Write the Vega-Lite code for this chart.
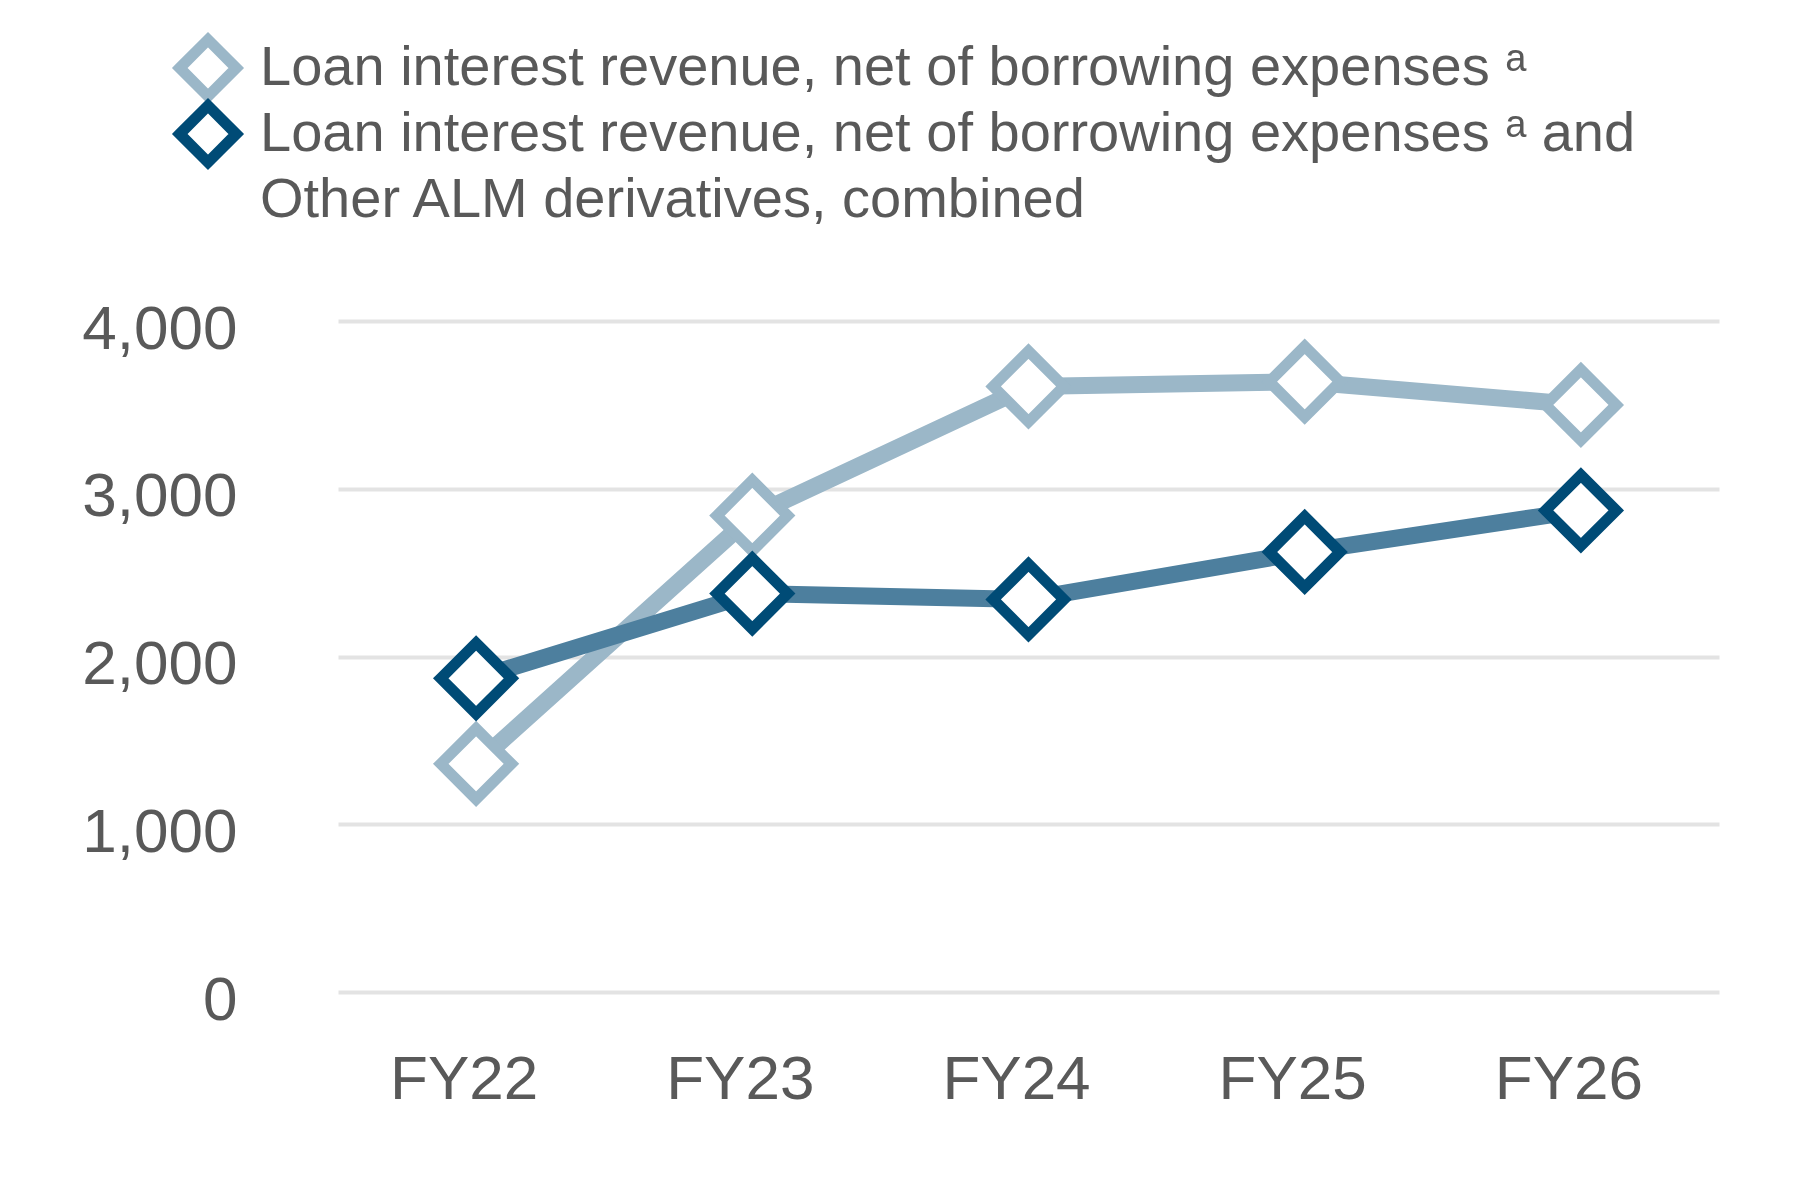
{
  "$schema": "https://vega.github.io/schema/vega-lite/v6.json",
  "width": 1381,
  "height": 671,
  "autosize": "none",
  "padding": {"left": 338, "top": 321, "right": 81, "bottom": 208},
  "background": "white",
  "config": {
    "font": "Liberation Sans",
    "view": {"stroke": null},
    "style": {"guide-label": {"lineHeight": 66}},
    "legend": {
      "title": null,
      "orient": "none",
      "padding": 0,
      "symbolType": "diamond",
      "symbolSize": 3200,
      "symbolStrokeWidth": 11,
      "symbolFillColor": "white",
      "labelFontSize": 56,
      "labelColor": "#595959",
      "labelLimit": 3000,
      "labelOffset": 18,
      "labelBaseline": "middle"
    }
  },
  "data": {
    "values": [
      {"year": "FY22", "series": "net", "value": 1360},
      {"year": "FY23", "series": "net", "value": 2840},
      {"year": "FY24", "series": "net", "value": 3610},
      {"year": "FY25", "series": "net", "value": 3638},
      {"year": "FY26", "series": "net", "value": 3500},
      {"year": "FY22", "series": "combined", "value": 1870},
      {"year": "FY23", "series": "combined", "value": 2375},
      {"year": "FY24", "series": "combined", "value": 2340},
      {"year": "FY25", "series": "combined", "value": 2623},
      {"year": "FY26", "series": "combined", "value": 2871}
    ]
  },
  "encoding": {
    "x": {
      "field": "year",
      "type": "ordinal",
      "scale": {"type": "band", "paddingInner": 0, "paddingOuter": 0},
      "axis": {
        "title": null,
        "domain": false,
        "ticks": false,
        "grid": false,
        "labelAngle": 0,
        "labelFontSize": 62,
        "labelColor": "#595959",
        "labelPadding": 57,
        "labelOffset": -12
      }
    },
    "y": {
      "field": "value",
      "type": "quantitative",
      "scale": {"domain": [0, 4000], "nice": false},
      "axis": {
        "title": null,
        "domain": false,
        "ticks": false,
        "values": [0, 1000, 2000, 3000, 4000],
        "format": ",.0f",
        "labelFontSize": 62,
        "labelColor": "#595959",
        "labelPadding": 101,
        "labelOffset": 8,
        "gridColor": "#E3E3E3",
        "gridWidth": 4
      }
    }
  },
  "layer": [
    {
      "mark": {"type": "line", "strokeWidth": 17, "strokeJoin": "round"},
      "encoding": {
        "detail": {"field": "series", "type": "nominal", "sort": ["net", "combined"]},
        "color": {
          "condition": {"test": "datum.series == 'net'", "value": "#9BB7C8"},
          "value": "#4D7F9E"
        },
        "order": {"field": "year"}
      }
    },
    {
      "transform": [{"filter": "datum.series == 'net'"}],
      "mark": {"type": "point", "shape": "diamond", "size": 5000, "fill": "white", "filled": false, "strokeWidth": 11, "opacity": 1},
      "encoding": {
        "stroke": {
          "field": "series",
          "type": "nominal",
          "scale": {"domain": ["net"], "range": ["#9BB7C8"]},
          "legend": {
            "legendX": -164,
            "legendY": -287,
            "labelExpr": "'Loan interest revenue, net of borrowing expenses \u1d43'"
          }
        }
      }
    },
    {
      "transform": [{"filter": "datum.series == 'combined'"}],
      "mark": {"type": "point", "shape": "diamond", "size": 5000, "fill": "white", "filled": false, "strokeWidth": 11, "opacity": 1},
      "encoding": {
        "color": {
          "field": "series",
          "type": "nominal",
          "scale": {"domain": ["combined"], "range": ["#004B76"]},
          "legend": {
            "legendX": -164,
            "legendY": -221,
            "labelExpr": "['Loan interest revenue, net of borrowing expenses \u1d43 and', 'Other ALM derivatives, combined']"
          }
        }
      }
    }
  ]
}
